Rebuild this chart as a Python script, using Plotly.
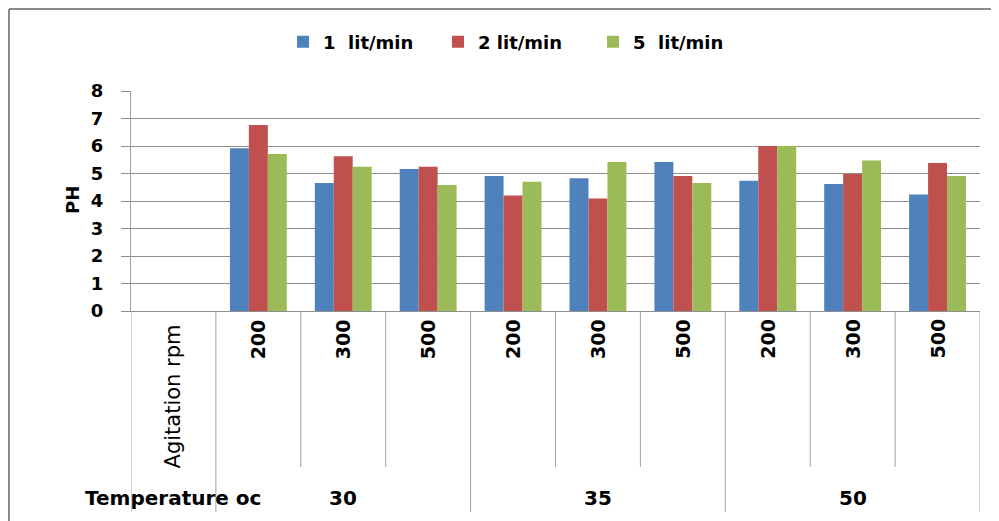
import plotly.graph_objects as go

# ---- data ----
temperatures = ["30", "35", "50"]
agitation = ["200", "300", "500"]
series_names = ["1\u00a0 lit/min", "2 lit/min", "5\u00a0 lit/min"]
flow_1 = [5.92, 4.65, 5.16, 4.91, 4.83, 5.42, 4.74, 4.62, 4.24]
flow_2 = [6.76, 5.63, 5.25, 4.20, 4.09, 4.91, 6.00, 4.98, 5.38]
flow_5 = [5.71, 5.25, 4.58, 4.70, 5.42, 4.65, 6.00, 5.47, 4.91]
colors = ["#4F81BD", "#C0504D", "#9BBB59"]

# category ids: first empty header column, then temperature/agitation combos
cat_ids = ["hdr"] + [f"{t}-{a}" for t in temperatures for a in agitation]

OFF = 8  # page body margin
W, H = 999 - OFF, 521 - OFF
ML, MT = 131 - OFF, 91 - OFF
PW, PH_ = 849, 220
MR = W - ML - PW
MB = H - MT - PH_


def py(p):  # screen pixel y -> paper y
    return (311 - p) / PH_


def px(p):  # screen pixel x -> paper x
    return (p - 131) / PW


FONT = "DejaVu Sans"
fig = go.Figure()
for name, vals, col in zip(series_names, [flow_1, flow_2, flow_5], colors):
    fig.add_trace(go.Bar(
        x=cat_ids, y=[None] + vals, name=f"<b>{name}</b>",
        marker=dict(color=col, line=dict(width=0)),
    ))

annotations = []
shapes = []
# agitation labels
annotations.append(dict(x="hdr", xref="x", y=py(396), yref="paper", yanchor="middle",
                        text="Agitation rpm", textangle=-90, showarrow=False,
                        font=dict(family=FONT, size=21, color="black")))
for cid in cat_ids[1:]:
    annotations.append(dict(x=cid, xref="x", y=py(339), yref="paper", yanchor="middle",
                            text=f"<b>{cid.split('-')[1]}</b>", textangle=-90, showarrow=False,
                            font=dict(family=FONT, size=19, color="black")))
# temperature labels
annotations.append(dict(x="hdr", xref="x", y=py(498), yref="paper", yanchor="middle",
                        text="<b>Temperature oc</b>", showarrow=False,
                        font=dict(family=FONT, size=20, color="black")))
for t in temperatures:
    annotations.append(dict(x=f"{t}-300", xref="x", y=py(498), yref="paper", yanchor="middle",
                            text=f"<b>{t}</b>", showarrow=False,
                            font=dict(family=FONT, size=20, color="black")))
# y axis title
annotations.append(dict(x=px(72), xref="paper", xanchor="center", y=py(200), yref="paper",
                        yanchor="middle", text="<b>PH</b>", textangle=-90, showarrow=False,
                        font=dict(family=FONT, size=18, color="black")))

# table divider lines
n = len(cat_ids)
for i in range(n + 1):
    b = i - 0.5
    long_line = (i <= 1) or ((i - 1) % len(agitation) == 0)
    shapes.append(dict(type="line", xref="x", yref="paper", x0=b, x1=b,
                       y0=0, y1=py(512 if long_line else 467),
                       line=dict(color="#a0a0a0", width=1)))
# outer chart border (top & left)
shapes.append(dict(type="line", xref="paper", yref="paper", x0=px(9), x1=px(999),
                   y0=py(9), y1=py(9), line=dict(color="#8a8a8a", width=2)))
shapes.append(dict(type="line", xref="paper", yref="paper", x0=px(9), x1=px(9),
                   y0=py(9), y1=py(521), line=dict(color="#8a8a8a", width=2)))

fig.update_layout(
    width=W, height=H,
    margin=dict(l=ML, r=MR, t=MT, b=MB),
    paper_bgcolor="white", plot_bgcolor="white",
    barmode="group", bargap=0.33, bargroupgap=0,
    font=dict(family=FONT, color="black"),
    showlegend=True,
    legend=dict(orientation="h", x=px(283), xanchor="left", y=py(42), yanchor="middle",
                font=dict(family=FONT, size=18, color="black"), itemwidth=30,
                entrywidth=110, entrywidthmode="pixels",
                traceorder="normal"),
    xaxis=dict(type="category", categoryorder="array", categoryarray=cat_ids,
               showticklabels=False, ticks="", showgrid=False,
               showline=True, linecolor="#8e8e8e", linewidth=1,
               range=[-0.5, n - 0.5], zeroline=False),
    yaxis=dict(range=[0, 8], dtick=1, tick0=0, showgrid=True, gridcolor="#8e8e8e", gridwidth=1,
               showline=True, linecolor="#a0a0a0", linewidth=1,
               ticks="outside", ticklen=9, tickcolor="#8e8e8e",
               tickfont=dict(family=FONT, size=18, color="black"),
               ticklabelstandoff=14, zeroline=False),
    annotations=annotations,
    shapes=shapes,
)
# bold tick labels
fig.update_yaxes(tickprefix="<b>", ticksuffix="</b>")
fig.write_html("out.html")
